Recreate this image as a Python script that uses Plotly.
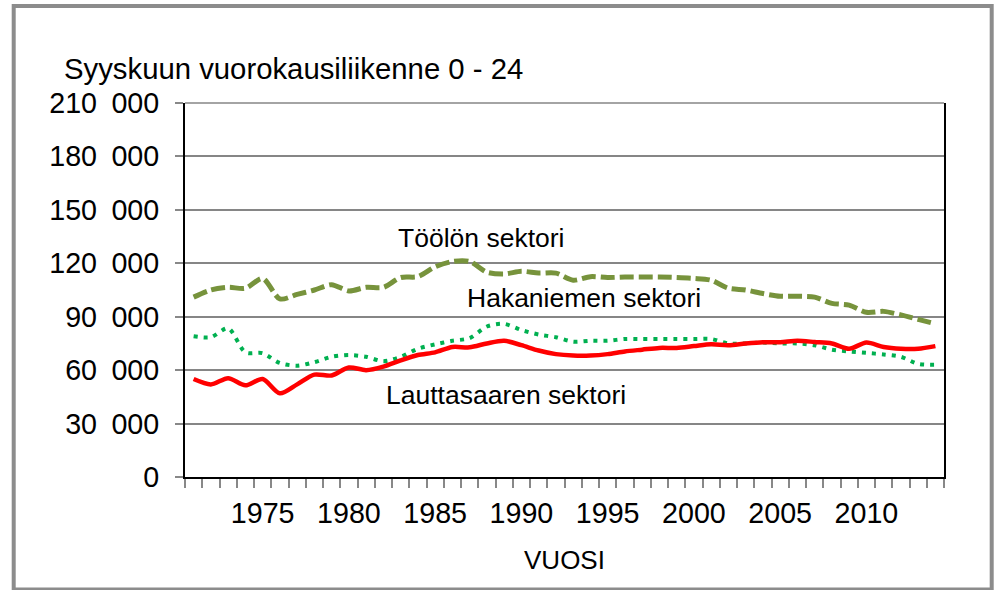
import plotly.graph_objects as go

# ---------------- data ----------------
years = list(range(1971, 2015))

toolo = [101000, 105000, 106500, 106000, 111500, 100000, 102500, 105000, 108000, 104500,
         106500, 106500, 112000, 112500, 118000, 121000, 121000, 115000, 114000, 115500,
         114500, 114500, 110500, 112500, 112000, 112300, 112300, 112300, 112000, 111500,
         110500, 106000, 105000, 103000, 101500, 101500, 101000, 97500, 96500, 92500,
         93000, 91000, 88500, 86000]

hakaniemi = [79000, 78500, 83500, 70000, 69500, 64000, 62500, 64500, 67500, 68500,
             67500, 65000, 67500, 72000, 74500, 76500, 78000, 84500, 86000, 82500,
             80000, 78500, 76000, 76500, 76500, 77500, 77500, 77500, 77500, 77500,
             77500, 75000, 75000, 75500, 75000, 75000, 74000, 71500, 70500, 69700,
             68800, 67500, 63500, 63000]

lauttasaari = [55000, 52000, 55500, 51500, 55000, 47000, 52000, 57500, 57000, 61500,
               60000, 62000, 65500, 68500, 70000, 73000, 72800, 75000, 76500, 74000,
               71000, 69000, 68200, 68200, 69000, 70500, 71500, 72500, 72500, 73500,
               74500, 74000, 75000, 75700, 75700, 76500, 75800, 75000, 72000, 75500,
               73000, 72000, 72000, 73500]

series_names = ["Töölön sektori", "Hakaniemen sektori", "Lauttasaaren sektori"]
x_tick_vals = [1975, 1980, 1985, 1990, 1995, 2000, 2005, 2010]
x_tick_text = ["1975", "1980", "1985", "1990", "1995", "2000", "2005", "2010"]
y_tick_vals = [0, 30000, 60000, 90000, 120000, 150000, 180000, 210000]
y_tick_text = ["0", "30\u2002000", "60\u2002000", "90\u2002000", "120\u2002000",
               "150\u2002000", "180\u2002000", "210\u2002000"]
chart_title = "Syyskuun vuorokausiliikenne 0 - 24"
x_title = "VUOSI"

# ---------------- layout geometry (pixels) ----------------
W, H = 996, 590
L, R, T, B = 185.3, 944.3, 103.0, 477.3
FONT = "Liberation Sans, Arial, sans-serif"


def px(x):
    return (x - L) / (R - L)


def py(y):
    return (B - y) / (B - T)


fig = go.Figure()

fig.add_trace(go.Scatter(
    x=years, y=toolo, mode="lines", name=series_names[0],
    line=dict(color="#77933C", width=5, dash="14px,5px", shape="spline", smoothing=0.8),
))
fig.add_trace(go.Scatter(
    x=years, y=hakaniemi, mode="lines", name=series_names[1],
    line=dict(color="#00B050", width=4, dash="4px,6px", shape="spline", smoothing=0.8),
))
fig.add_trace(go.Scatter(
    x=years, y=lauttasaari, mode="lines", name=series_names[2],
    line=dict(color="#FF0000", width=4.5, shape="spline", smoothing=0.8),
))

fig.update_layout(
    width=W, height=H,
    margin=dict(l=L, r=W - R, t=T, b=H - B, pad=0),
    paper_bgcolor="white", plot_bgcolor="white",
    showlegend=False,
    font=dict(family=FONT, color="black", size=28.7),
    xaxis=dict(
        range=[1970.5, 2014.5],
        tickmode="array", tickvals=x_tick_vals, ticktext=x_tick_text,
        ticks="", showgrid=False, zeroline=False,
        showline=True, linecolor="black", linewidth=2,
        tickfont=dict(size=28.7, family=FONT, color="black"),
        ticklabelstandoff=10,
        minor=dict(tick0=1970.5, dtick=1, ticks="outside", ticklen=9,
                   tickcolor="#888888", tickwidth=1.5, showgrid=False),
        title=dict(text=x_title, font=dict(size=26, family=FONT, color="black"), standoff=22),
    ),
    yaxis=dict(
        range=[0, 210000],
        tickmode="array", tickvals=y_tick_vals, ticktext=y_tick_text,
        ticks="outside", ticklen=8, tickcolor="#888888", tickwidth=1.5,
        showgrid=True, gridcolor="#868686", gridwidth=1.5,
        zeroline=False,
        showline=True, linecolor="black", linewidth=2, mirror=True,
        tickfont=dict(size=28.7, family=FONT, color="black"),
        ticklabelstandoff=10,
    ),
)

# top gridline (plot-area top edge)
fig.add_shape(type="line", xref="paper", yref="paper", x0=0, x1=1, y0=1, y1=1,
              line=dict(color="#868686", width=1.5), layer="below")

# outer chart frame
fig.add_shape(type="rect", xref="paper", yref="paper",
              x0=px(14), x1=px(992), y0=py(590), y1=py(6),
              line=dict(color="#8c8c8c", width=4), fillcolor="rgba(0,0,0,0)", layer="below")

# chart title
fig.add_annotation(text=chart_title, xref="paper", yref="paper",
                   x=px(62), y=py(68), xanchor="left", yanchor="middle",
                   showarrow=False, font=dict(size=29.3, family=FONT, color="black"))

# series labels
label_pos = [(481, 238), (584, 298), (506, 395)]
for name, (lx, ly) in zip(series_names, label_pos):
    fig.add_annotation(text=name, xref="paper", yref="paper",
                       x=px(lx), y=py(ly), xanchor="center", yanchor="middle",
                       showarrow=False, font=dict(size=26.5, family=FONT, color="black"))

fig.write_html(
    "out.html",
    config={"displayModeBar": False},
    post_script="document.body.style.margin='0';document.body.style.overflow='hidden';",
)
